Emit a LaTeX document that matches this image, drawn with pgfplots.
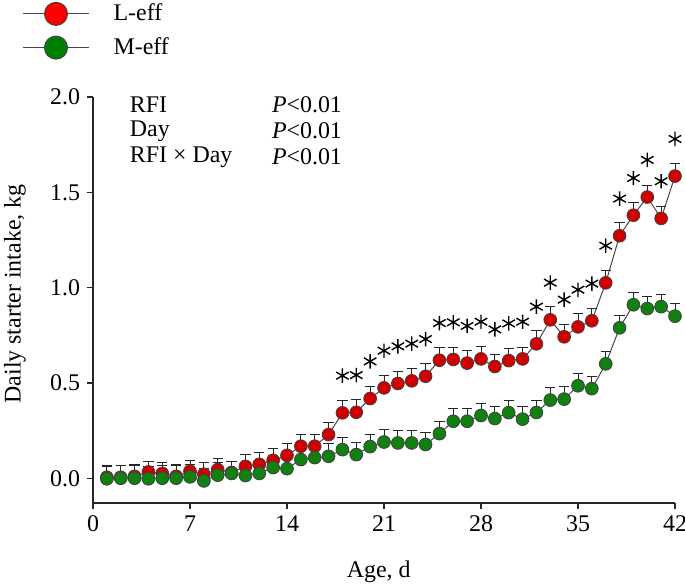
\documentclass[border=0pt]{standalone}
\usepackage{fontspec}
\setmainfont{Liberation Serif}
\usepackage{pgfplots}
\usepackage{pgfplotstable}
\pgfplotsset{compat=1.18}

\definecolor{leffred}{RGB}{208,0,0}
\definecolor{meffgreen}{RGB}{16,128,16}
\definecolor{legred}{RGB}{255,0,0}
\definecolor{leggreen}{RGB}{0,128,0}
\definecolor{linegray}{RGB}{70,70,70}

% day, L-eff mean and SE, M-eff mean and SE, height of the significance star
\pgfplotstableread{
day leff  leffse meff   meffse star
1   0.005 0.060  -0.003 0.065  nan
2   0.005 0.060  0.000  0.065  nan
3   0.010 0.060  0.000  0.065  nan
4   0.033 0.055  -0.003 0.065  nan
5   0.025 0.055  0.000  0.065  nan
6   0.010 0.060  0.000  0.065  nan
7   0.037 0.058  0.007  0.065  nan
8   0.021 0.060  -0.014 0.065  nan
9   0.045 0.060  0.016  0.065  nan
10  0.030 0.060  0.025  0.065  nan
11  0.062 0.060  0.014  0.065  nan
12  0.073 0.060  0.025  0.065  nan
13  0.094 0.060  0.056  0.065  nan
14  0.120 0.060  0.050  0.065  nan
15  0.168 0.062  0.098  0.065  nan
16  0.168 0.062  0.108  0.065  nan
17  0.229 0.062  0.115  0.065  nan
18  0.343 0.065  0.150  0.065  0.538
19  0.346 0.065  0.124  0.065  0.541
20  0.418 0.065  0.166  0.065  0.613
21  0.474 0.065  0.190  0.065  0.669
22  0.497 0.065  0.185  0.065  0.692
23  0.511 0.065  0.185  0.065  0.706
24  0.535 0.065  0.177  0.065  0.730
25  0.619 0.065  0.234  0.065  0.814
26  0.623 0.065  0.299  0.065  0.818
27  0.604 0.065  0.299  0.065  0.799
28  0.626 0.065  0.329  0.065  0.821
29  0.586 0.065  0.313  0.065  0.781
30  0.617 0.065  0.344  0.065  0.812
31  0.626 0.062  0.310  0.065  0.821
32  0.705 0.068  0.345  0.065  0.900
33  0.831 0.068  0.410  0.065  1.026
34  0.742 0.066  0.415  0.065  0.937
35  0.794 0.070  0.485  0.065  0.989
36  0.826 0.066  0.470  0.065  1.021
37  1.025 0.063  0.600  0.065  1.220
38  1.272 0.068  0.789  0.065  1.467
39  1.380 0.067  0.910  0.065  1.575
40  1.475 0.063  0.890  0.065  1.670
41  1.363 0.060  0.900  0.065  1.558
42  1.585 0.067  0.850  0.065  1.780
}\intake

\begin{document}
\begin{tikzpicture}
\begin{axis}[
    at={(0,0)}, anchor=south west,
    scale only axis, width=291bp, height=203bp,
    xmin=0, xmax=42, ymin=-0.13, ymax=2.0,
    clip=false,
    axis lines=left,
    axis line style={-, line width=0.6pt, black!85},
    xtick={0,7,...,42},
    ytick={0,0.5,...,2},
    tick align=outside,
    major tick length=3bp,
    tick style={line width=0.6pt, black!85},
    font=\fontsize{12}{14}\selectfont,
    tick label style={font=\fontsize{12}{14}\selectfont},
    /pgf/number format/assume math mode=true,
    yticklabel style={/pgf/number format/.cd, fixed, fixed zerofill, precision=1},
    xlabel={Age, d},
    ylabel={Daily starter intake, kg},
    every axis y label/.style={at={(axis description cs:-0.134,0.515)}, rotate=90, anchor=center},
    every axis x label/.style={at={(axis description cs:0.491,-0.17)}, anchor=center},
    legend style={draw=none, fill=none, at={(axis description cs:-0.122,1.24)},
        anchor=north west, font=\fontsize{12}{14}\selectfont,
        row sep=3bp, inner sep=0pt},
    legend cell align=left,
    error bars/y dir=plus,
    error bars/y explicit,
    error bars/error bar style={line width=0.5pt, black!85},
    error bars/error mark options={rotate=90, mark size=2.6bp, line width=0.5pt, black!85},
]

\addplot[linegray, line width=0.5pt, mark=*, mark size=3.2bp,
    mark options={fill=leffred, draw=black!75, line width=0.4pt},
    legend image code/.code={
        \draw[linegray, line width=0.6pt] (0bp,0bp) -- (33bp,0bp);
        \draw[fill=legred, draw=black!75, line width=0.5pt] (16.5bp,0bp) circle (5.75bp);
    }]
    table[x=day, y=leff, y error=leffse] {\intake};
\addlegendentry{\hspace{10bp}L-eff}

\addplot[linegray, line width=0.5pt, mark=*, mark size=3.2bp,
    mark options={fill=meffgreen, draw=black!75, line width=0.4pt},
    legend image code/.code={
        \draw[linegray, line width=0.6pt] (0bp,0bp) -- (33bp,0bp);
        \draw[fill=leggreen, draw=black!75, line width=0.5pt] (16.5bp,0bp) circle (5.75bp);
    }]
    table[x=day, y=meff, y error=meffse] {\intake};
\addlegendentry{\hspace{10bp}M-eff}

\addplot[only marks, mark=asterisk, mark size=3.6bp, black, line width=0.7pt,
    error bars/y dir=none, forget plot]
    table[x=day, y=star] {\intake};

\node[anchor=west] at (axis cs:2.16,1.958) {RFI};
\node[anchor=west] at (axis cs:2.16,1.822) {Day};
\node[anchor=west] at (axis cs:2.16,1.685) {RFI × Day};
\node[anchor=west] at (axis cs:12.41,1.958) {\textit{P}<0.01};
\node[anchor=west] at (axis cs:12.41,1.822) {\textit{P}<0.01};
\node[anchor=west] at (axis cs:12.41,1.685) {\textit{P}<0.01};
\end{axis}
\pgfresetboundingbox
\path[use as bounding box] (-46.5bp,-41bp) rectangle (296bp,251.5bp);
\end{tikzpicture}
\end{document}
